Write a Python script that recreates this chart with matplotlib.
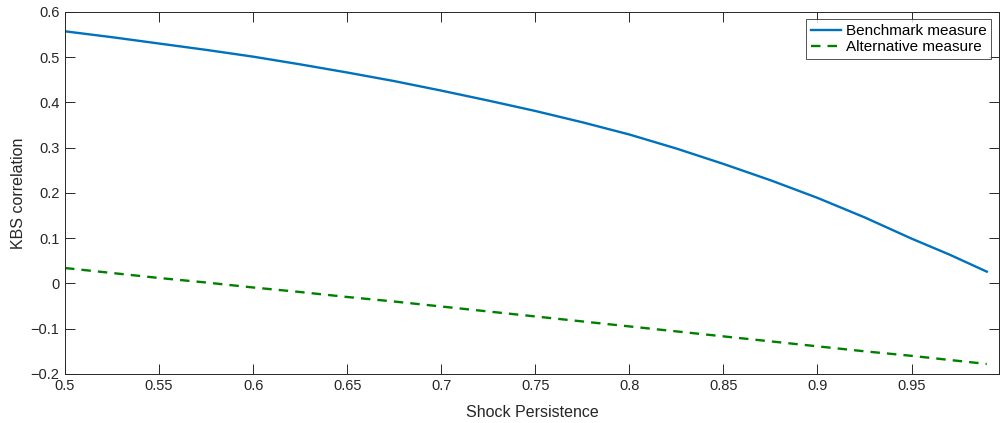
import matplotlib
matplotlib.use("Agg")
import matplotlib.pyplot as plt

plt.rcParams['font.family'] = ['Liberation Sans', 'DejaVu Sans']

persistence = [0.5, 0.525, 0.55, 0.575, 0.6, 0.625, 0.65, 0.675, 0.7, 0.725, 0.75,
               0.775, 0.8, 0.825, 0.85, 0.875, 0.9, 0.925, 0.95, 0.97, 0.99]
benchmark = [0.557, 0.544, 0.530, 0.516, 0.501, 0.484, 0.466, 0.447, 0.426, 0.404, 0.381,
             0.356, 0.329, 0.298, 0.264, 0.228, 0.189, 0.146, 0.099, 0.064, 0.026]
alternative = [0.034, 0.023, 0.012, 0.002, -0.009, -0.019, -0.030, -0.040, -0.051, -0.062, -0.073,
               -0.084, -0.095, -0.106, -0.117, -0.128, -0.139, -0.150, -0.160, -0.169, -0.178]

xticks = [0.5, 0.55, 0.6, 0.65, 0.7, 0.75, 0.8, 0.85, 0.9, 0.95]
xticklabels = ['0.5', '0.55', '0.6', '0.65', '0.7', '0.75', '0.8', '0.85', '0.9', '0.95']
yticks = [-0.2, -0.1, 0, 0.1, 0.2, 0.3, 0.4, 0.5, 0.6]
yticklabels = ['\u22120.2', '\u22120.1', '0', '0.1', '0.2', '0.3', '0.4', '0.5', '0.6']

fig = plt.figure(figsize=(10, 4.23), dpi=100)
ax = fig.add_axes([0.065, 0.116, 0.934, 0.856])

ax.plot(persistence, benchmark, color='#0072BD', lw=1.7, label='Benchmark measure')
ax.plot(persistence, alternative, color='#008000', lw=1.7, ls=(0, (4, 3)), label='Alternative measure')

ax.set_xlim(0.5, 0.9965)
ax.set_ylim(-0.2, 0.6)
ax.set_xticks(xticks)
ax.set_xticklabels(xticklabels)
ax.set_yticks(yticks)
ax.set_yticklabels(yticklabels)
ax.tick_params(direction='in', length=7, width=0.7, top=True, right=True,
               labelsize=10.5, colors='#262626', pad=4)
for s in ax.spines.values():
    s.set_color('#262626')
    s.set_linewidth(0.7)

ax.set_xlabel('Shock Persistence', fontsize=11.5, color='#262626', labelpad=8)
ax.set_ylabel('KBS correlation', fontsize=11.5, color='#262626', labelpad=3)

leg = ax.legend(loc='upper right', fontsize=11, frameon=True, fancybox=False,
                edgecolor='#262626', borderpad=0.3, labelspacing=0.15,
                handlelength=2.0, handletextpad=0.3, borderaxespad=0.5)
leg.get_frame().set_linewidth(0.7)

fig.savefig('out.png', dpi=100)
